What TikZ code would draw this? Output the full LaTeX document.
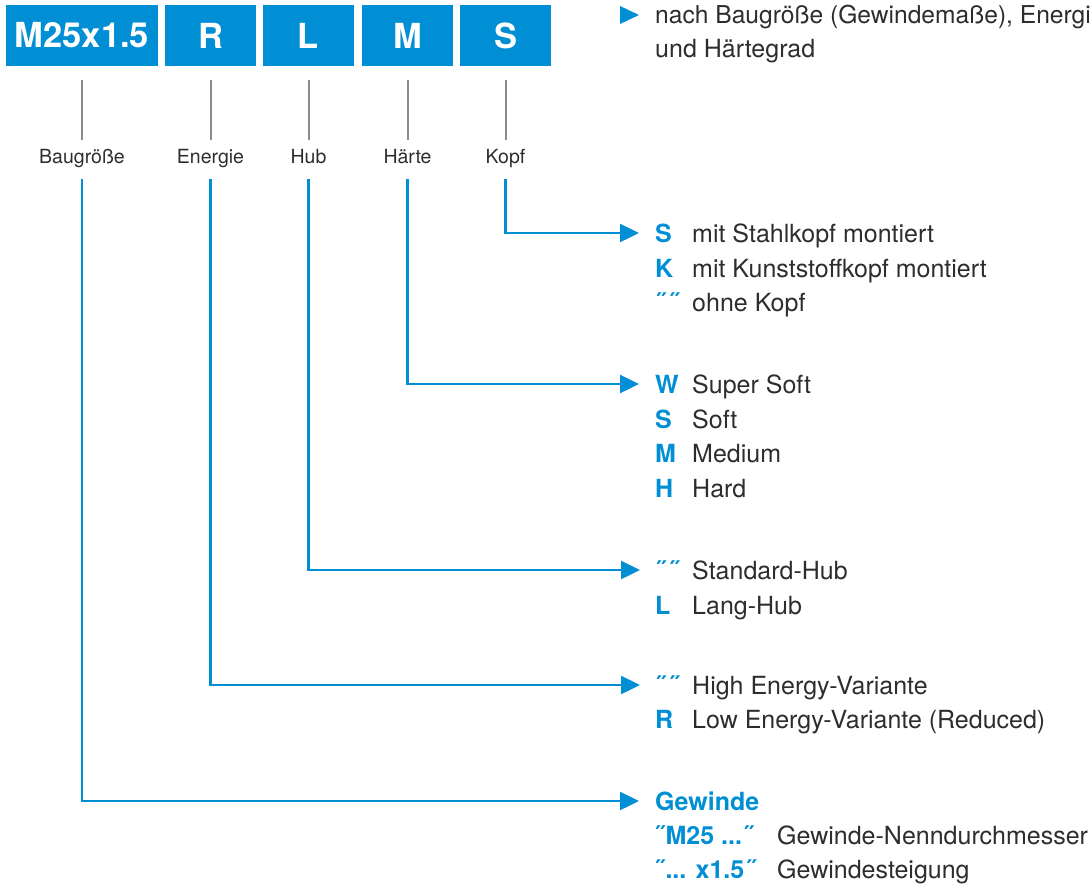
\documentclass[tikz,border=0pt]{standalone}
\usepackage{fontspec}
\setmainfont{TeX Gyre Heros}
\usetikzlibrary{arrows.meta}
\definecolor{codeblue}{RGB}{0,143,213}
\definecolor{txtgray}{RGB}{45,45,45}
\definecolor{rulegray}{RGB}{140,140,140}

\begin{document}
\begin{tikzpicture}[x=1pt,y=1pt,
    code/.style={fill=codeblue,text=white,font=\fontsize{34.5}{38}\selectfont\bfseries,
      minimum height=61pt,inner sep=0pt},
    part/.style={anchor=base,font=\fontsize{19.5}{22}\selectfont,text=txtgray,
      text height=0.75em,text depth=0.25em,inner xsep=0pt,inner ysep=13pt},
    key/.style={anchor=base west,inner sep=0pt,text height=18pt,text depth=0pt,
      font=\fontsize{25}{30}\selectfont\bfseries,text=codeblue},
    desc/.style={anchor=base west,inner sep=0pt,font=\fontsize{25}{30}\selectfont,text=txtgray},
    tick/.style={draw=rulegray,line width=2pt,shorten <=14pt,shorten >=2.4pt},
    lead/.style={draw=codeblue,line width=2.4pt,-{Triangle[length=19pt,width=18pt]},shorten >=16pt}]
    \def\x{1}
    \def\y{-1}
    \useasboundingbox (0,0) rectangle (1092*\x, 884*\y);
    % code boxes
    \node [code,minimum width=152pt] (C0) at (82*\x, 35.5*\y) {M25x1.5};
    \node [code,minimum width=91pt] (C1) at (210.5*\x, 35.5*\y) {R};
    \node [code,minimum width=91pt] (C2) at (308.5*\x, 35.5*\y) {L};
    \node [code,minimum width=91pt] (C3) at (407.5*\x, 35.5*\y) {M};
    \node [code,minimum width=91pt] (C4) at (505.5*\x, 35.5*\y) {S};
    % labels
    \node [part] (P0) at (82*\x, 163*\y) {Baugröße};
    \node [part] (P1) at (210.5*\x, 163*\y) {Energie};
    \node [part] (P2) at (308.5*\x, 163*\y) {Hub};
    \node [part] (P3) at (407.5*\x, 163*\y) {Härte};
    \node [part] (P4) at (505.5*\x, 163*\y) {Kopf};
    \foreach \i in {0,...,4}
      \path (C\i) edge [tick] (P\i);
    % top note
    \fill [codeblue] (620*\x, 6*\y) -- (639*\x, 15*\y) -- (620*\x, 24*\y) -- cycle;
    \node [desc,font=\fontsize{24.6}{30}\selectfont] (N0) at (655*\x, 23*\y) {nach Baugröße (Gewindemaße), Energi};
    \node [desc] (N1) at (655*\x, 57*\y) {und Härtegrad};
    % Kopf
    \node [key] (K0) at (655*\x, 242*\y) {S};
    \node [desc] (K0d) at (692*\x, 242*\y) {mit Stahlkopf montiert};
    \node [key] (K1) at (655*\x, 277*\y) {K};
    \node [desc] (K1d) at (692*\x, 277*\y) {mit Kunststoffkopf montiert};
    \node [key] (K2) at (656*\x, 311*\y) {˝\kern5pt˝};
    \node [desc] (K2d) at (692*\x, 311*\y) {ohne Kopf};
    % Härte
    \node [key] (H0) at (655*\x, 393*\y) {W};
    \node [desc] (H0d) at (692*\x, 393*\y) {Super Soft};
    \node [key] (H1) at (655*\x, 428*\y) {S};
    \node [desc] (H1d) at (692*\x, 428*\y) {Soft};
    \node [key] (H2) at (655*\x, 462*\y) {M};
    \node [desc] (H2d) at (692*\x, 462*\y) {Medium};
    \node [key] (H3) at (655*\x, 497*\y) {H};
    \node [desc] (H3d) at (692*\x, 497*\y) {Hard};
    % Hub
    \node [key] (U0) at (656*\x, 579*\y) {˝\kern5pt˝};
    \node [desc] (U0d) at (692*\x, 579*\y) {Standard-Hub};
    \node [key] (U1) at (655*\x, 614*\y) {L};
    \node [desc] (U1d) at (692*\x, 614*\y) {Lang-Hub};
    % Energie
    \node [key] (E0) at (656*\x, 694*\y) {˝\kern5pt˝};
    \node [desc] (E0d) at (692*\x, 694*\y) {High Energy-Variante};
    \node [key] (E1) at (655*\x, 728*\y) {R};
    \node [desc] (E1d) at (692*\x, 728*\y) {Low Energy-Variante (Reduced)};
    % Gewinde
    \node [key] (G0) at (655*\x, 810*\y) {Gewinde};
    \node [key] (G1) at (655*\x, 844*\y) {˝\kern2pt M25 ...\kern2pt˝};
    \node [desc] (G1d) at (777*\x, 844*\y) {Gewinde-Nenndurchmesser};
    \node [key] (G2) at (655*\x, 878*\y) {˝\kern2pt... x1.5\kern2pt˝};
    \node [desc] (G2d) at (777*\x, 878*\y) {Gewindesteigung};
    % leaders
    \draw [lead] (P4) |- (K0);
    \draw [lead] (P3) |- (H0);
    \draw [lead] (P2) |- (U0);
    \draw [lead] (P1) |- (E0);
    \draw [lead] (P0) |- (G0);
  \end{tikzpicture}
\end{document}
